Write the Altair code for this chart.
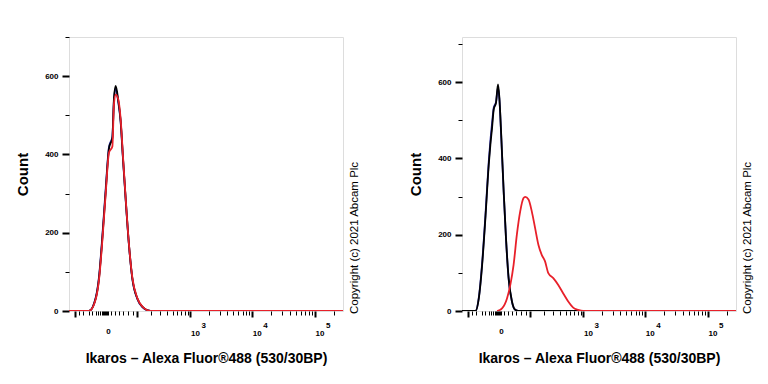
import altair as alt
import pandas as pd

# ---------------- data ----------------
SYMLOG_C = 47
X_DOMAIN = [-133, 278000]

# left panel
left_x = [-133, -39.5, -20.8, -13.0, -6.1, 0, 6.1, 13.0, 16.7, 20.8, 27.7, 34.3,
          41.5, 50.5, 63.2, 77.5, 102.6, 132.5, 196, 278000]
left_black_y = [0, 0, 32, 84, 186, 305, 416, 442, 545, 575, 536, 485, 391, 288,
                169, 84, 32, 11, 0, 0]
left_blue_y = [0, 0, 34, 88, 192, 312, 420, 445, 540, 568, 532, 482, 388, 286,
               168, 83, 31, 10, 0, 0]
left_red_y = [0, 0, 30, 80, 180, 300, 405, 420, 530, 553, 540, 490, 395, 290,
              170, 86, 33, 12, 0, 0]

# right panel
right_x = [-133, -62.7, -50.3, -39.1, -29.4, -20.6, -16.7, -12.9, -9.4, -4.8, -1.2,
           1.2, 4.8, 9.4, 14.4, 20.6, 29.4, 39.1, 50.3, 278000]
right_black_y = [0, 0, 33, 121, 244, 384, 436, 480, 528, 546, 594, 559, 454, 314,
                 191, 86, 25, 3, 0, 0]
right_blue_y = [0, 0, 35, 126, 250, 392, 446, 492, 532, 548, 585, 555, 450, 312,
                190, 85, 24, 3, 0, 0]
right_red_x = [-2.9, 6.1, 16.7, 24.8, 34.1, 44.4, 56.3, 69.7, 76.9, 93.0, 110.8,
               131.3, 154.4, 180.1, 209.5, 242.1, 299.8, 369.0, 452.1, 551.8, 671.2,
               814.1, 986, 278000]
right_red_y = [0, 7, 33, 68, 121, 200, 261, 296, 299, 292, 261, 217, 173, 147, 130,
               99, 86, 68, 46, 25, 9, 3, 0, 0]

# axis ticks
x_ticks = [-100, -80, -60, -40, -30, -20, -15, -10, -7, -5, -3, -1, 0, 2, 5, 10, 20,
           30, 40, 60, 80, 100, 200, 300, 400, 500, 600, 700, 800, 900,
           1000, 2000, 3000, 4000, 5000, 6000, 7000, 8000, 9000,
           10000, 20000, 30000, 40000, 50000, 60000, 70000, 80000, 90000,
           100000, 200000]
x_major = [-100, 100, 1000, 10000, 100000]
x_decades = [1000, 10000, 100000]
x_exponents = ["3", "4", "5"]
y_ticks = [0, 100, 200, 300, 400, 500, 600, 700]
y_labels = [0, 200, 400, 600]

x_title = "Ikaros – Alexa Fluor®488 (530/30BP)"
y_title = "Count"
copyright_text = "Copyright (c) 2021 Abcam Plc"

colors = {"blue": "#2a2aa8", "black": "#000000", "red": "#e8202a"}

W, H = 274, 274
FONT = "Liberation Sans"

major_test = " || ".join(f"datum.value == {v}" for v in x_major)
decade_test = " || ".join(f"datum.value == {v}" for v in x_decades)
label_expr = f"datum.value == 0 ? '0' : ({decade_test}) ? '10' : ''"
y_major_test = " || ".join(f"datum.value == {v}" for v in y_labels)


def make_x():
    return alt.X(
        "x:Q",
        scale=alt.Scale(type="symlog", constant=SYMLOG_C, domain=X_DOMAIN, nice=False, zero=False),
        axis=alt.Axis(
            values=x_ticks, labelExpr=label_expr, title=x_title, grid=False,
            domain=False,
            tickColor="black",
            tickSize={"condition": {"test": major_test, "value": 6}, "value": 4},
            tickWidth={"condition": {"test": major_test, "value": 2}, "value": 1},
            labelAlign="left",
            labelFont=FONT, labelFontSize=8, labelFontWeight="bold", labelColor="black",
            labelPadding=12, labelOverlap=False, labelFlush=False,
            titleFont=FONT, titleFontSize=14, titleFontWeight="bold", titleColor="black",
            titlePadding=14,
        ),
    )


def panel(series, ymax):
    frames = []
    for name, xs, ys in series:
        frames.append(pd.DataFrame({"x": xs, "y": ys, "s": name}))
    df = pd.concat(frames, ignore_index=True)

    y_enc = alt.Y(
        "y:Q",
        scale=alt.Scale(domain=[0, ymax], nice=False),
        axis=alt.Axis(
            values=y_ticks,
            labelExpr="(" + y_major_test + ") ? datum.label : ''",
            title=y_title, grid=False, domain=False, tickColor="black",
            tickSize={"condition": {"test": y_major_test, "value": 7}, "value": 4},
            tickWidth={"condition": {"test": y_major_test, "value": 2}, "value": 1},
            labelFont=FONT, labelFontSize=8, labelFontWeight="bold", labelColor="black",
            labelPadding=4,
            titleFont=FONT, titleFontSize=15, titleFontWeight="bold", titleColor="black",
            titlePadding=14,
        ),
    )
    lines = alt.Chart(df).mark_line(interpolate="monotone", strokeWidth=1.8, clip=True).encode(
        x=make_x(),
        y=y_enc,
        color=alt.Color("s:N", scale=alt.Scale(domain=list(colors.keys()), range=list(colors.values())), legend=None),
        order=alt.Order("x:Q"),
        detail="s:N",
    )
    exps = alt.Chart(pd.DataFrame({"x": x_decades, "e": x_exponents})).mark_text(
        align="left", baseline="alphabetic", font=FONT, fontSize=8, fontWeight="bold",
        color="black", dx=11
    ).encode(x=make_x(), y=alt.value(H + 17), text="e:N")
    note = alt.Chart(pd.DataFrame({"t": [copyright_text]})).mark_text(
        angle=270, align="left", baseline="middle", font=FONT, fontSize=11.5, color="black"
    ).encode(x=alt.value(W + 12), y=alt.value(H + 3), text="t:N")
    return alt.layer(lines, exps, note).properties(width=W, height=H)


left = panel([
    ("blue", left_x, left_blue_y),
    ("black", left_x, left_black_y),
    ("red", left_x, left_red_y),
], 700)

right = panel([
    ("blue", right_x, right_blue_y),
    ("black", right_x, right_black_y),
    ("red", right_red_x, right_red_y),
], 718)

chart = alt.hconcat(left, right, spacing=47).configure_view(
    stroke="#000000", strokeWidth=1
).configure(padding={"top": 28, "left": 7, "right": 5, "bottom": 5}, background="white")

chart.save("out.html", embed_options={"renderer": "svg", "actions": False})
